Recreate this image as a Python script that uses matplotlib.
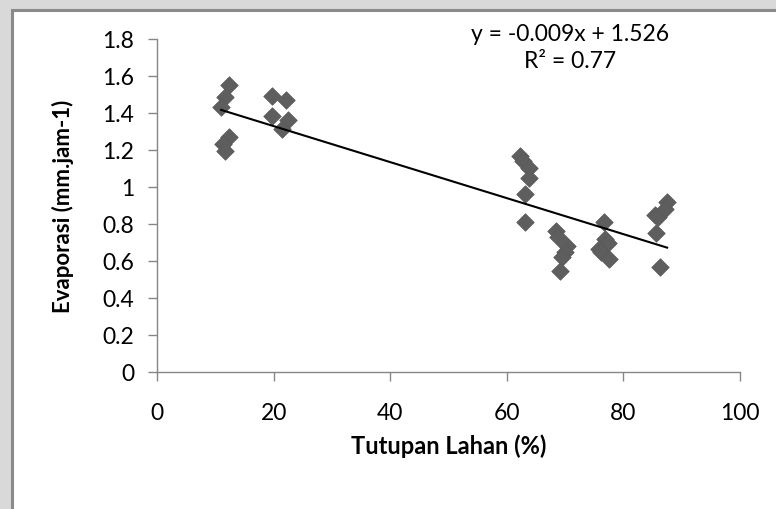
import numpy as np
import matplotlib
matplotlib.use("Agg")
import matplotlib.pyplot as plt
from matplotlib.patches import Rectangle

plt.rcParams['font.family'] = ['Lato', 'DejaVu Sans']

# Data
tutupan = [12.4, 11.7, 11.0, 12.4, 11.4, 11.7, 19.7, 22.2, 19.7, 22.5, 21.4,
           62.3, 62.7, 63.8, 63.8, 63.2, 63.1,
           68.4, 68.8, 70.4, 70.0, 69.5, 69.1,
           76.6, 76.9, 77.3, 75.8, 76.2, 77.5,
           85.5, 86.0, 85.6, 86.2, 87.5, 87.2]
evaporasi = [1.55, 1.485, 1.43, 1.27, 1.23, 1.195, 1.49, 1.47, 1.385, 1.36, 1.315,
             1.17, 1.14, 1.10, 1.05, 0.96, 0.81,
             0.76, 0.73, 0.68, 0.65, 0.62, 0.545,
             0.81, 0.72, 0.70, 0.665, 0.65, 0.61,
             0.85, 0.84, 0.75, 0.57, 0.92, 0.88]
x_ticks = [0, 20, 40, 60, 80, 100]
y_ticks = [0, 0.2, 0.4, 0.6, 0.8, 1, 1.2, 1.4, 1.6, 1.8]
y_tick_labels = ['0', '0.2', '0.4', '0.6', '0.8', '1', '1.2', '1.4', '1.6', '1.8']
eq_text = "y = -0.009x + 1.526\nR² = 0.77"

W, H = 776, 510
fig = plt.figure(figsize=(W / 100, H / 100), dpi=100, facecolor='#d9d9d9')

# white chart area with grey frame
fig.patches.append(Rectangle((12 / W, -0.1), 1.0, 1.1 - 11 / H, transform=fig.transFigure,
                             facecolor='white', edgecolor='#8a8a8a', linewidth=2.2,
                             zorder=-5))

ax = fig.add_axes([157 / W, 1 - 373 / H, (740 - 157) / W, (373 - 40) / H])
ax.set_facecolor('none')
ax.set_zorder(2)

ax.scatter(tutupan, evaporasi, marker='D', s=80, color='#5e5e5e', edgecolors='#5a5a5a',
           linewidths=0.5, zorder=3)

xs = np.array(tutupan)
ys = np.array(evaporasi)
m, b = np.polyfit(xs, ys, 1)
xl = np.array([xs.min(), xs.max()])
ax.plot(xl, m * xl + b, color='black', linewidth=1.5, zorder=4)

ax.set_xlim(0, 100)
ax.set_ylim(0, 1.8)
ax.set_xticks(x_ticks)
ax.set_xticklabels([str(t) for t in x_ticks])
ax.set_yticks(y_ticks)
ax.set_yticklabels(y_tick_labels)

for s in ['top', 'right']:
    ax.spines[s].set_visible(False)
for s in ['left', 'bottom']:
    ax.spines[s].set_color('#868686')
    ax.spines[s].set_linewidth(1.0)
ax.tick_params(axis='both', direction='out', length=6.5, width=1.0, color='#868686',
               labelsize=16.5, labelcolor='black')
ax.tick_params(axis='x', pad=15)
ax.tick_params(axis='y', pad=10)

ax.set_xlabel('Tutupan Lahan (%)', fontsize=17, fontweight='bold')
ax.set_ylabel('Evaporasi (mm.jam-1)', fontsize=16, fontweight='bold')
ax.xaxis.set_label_coords(0.5, -(446 - 373) / (373 - 40), transform=ax.transAxes)
ax.yaxis.set_label_coords(-(157 - 63) / (740 - 157), 0.5, transform=ax.transAxes)
ax.xaxis.label.set_va('center')
ax.yaxis.label.set_va('center')

ax.text(70.8, 1.755, eq_text, ha='center', va='center', fontsize=16.5,
        linespacing=1.35, zorder=5)

fig.savefig('out.png', dpi=100, facecolor=fig.get_facecolor())
